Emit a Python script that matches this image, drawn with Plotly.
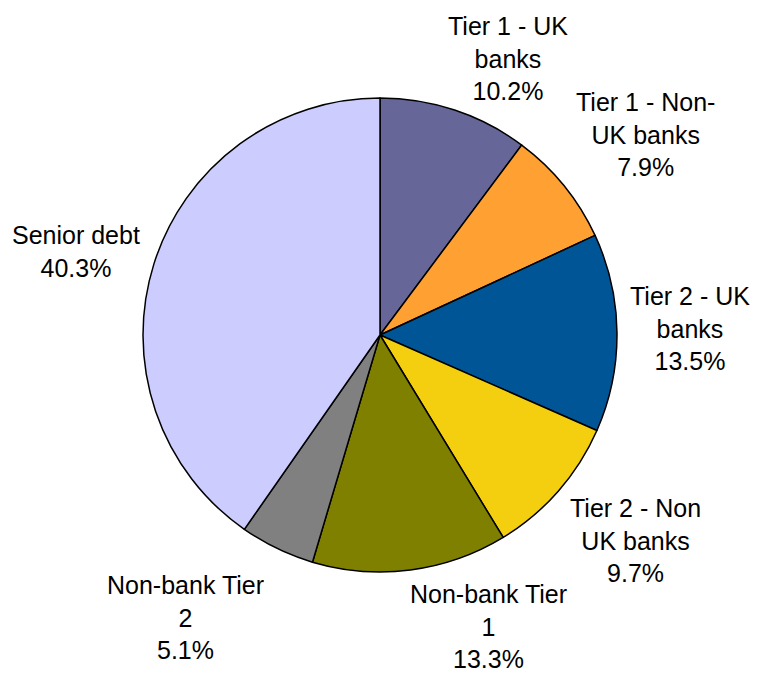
import plotly.graph_objects as go

# Composition of holdings by instrument type (share of total, %)
categories = [
    "Tier 1 - UK banks",
    "Tier 1 - Non-UK banks",
    "Tier 2 - UK banks",
    "Tier 2 - Non UK banks",
    "Non-bank Tier 1",
    "Non-bank Tier 2",
    "Senior debt",
]
label_lines = [
    "Tier 1 - UK<br>banks",
    "Tier 1 - Non-<br>UK banks",
    "Tier 2 - UK<br>banks",
    "Tier 2 - Non<br>UK banks",
    "Non-bank Tier<br>1",
    "Non-bank Tier<br>2",
    "Senior debt",
]
shares = [10.2, 7.9, 13.5, 9.7, 13.3, 5.1, 40.3]

colors = ["#666699", "#FFA033", "#005597", "#F4CF10", "#808000", "#808080", "#CCCCFF"]

# label anchor points (paper coordinates)
label_x = [0.671, 0.853, 0.912, 0.839, 0.645, 0.245, 0.100]
label_y = [0.913, 0.800, 0.513, 0.200, 0.072, 0.085, 0.628]

W, H = 757, 675
font = dict(family="Liberation Sans, Arial, sans-serif", size=25, color="#000000")

fig = go.Figure(
    go.Pie(
        labels=categories,
        values=shares,
        sort=False,
        direction="clockwise",
        rotation=0,
        marker=dict(colors=colors, line=dict(color="#000000", width=1.5)),
        textinfo="none",
        hoverinfo="label+percent",
        showlegend=False,
        domain=dict(x=[143 / W, 617 / W], y=[1 - 572 / H, 1 - 98 / H]),
    )
)

for txt, v, x, y in zip(label_lines, shares, label_x, label_y):
    fig.add_annotation(
        x=x, y=y, xref="paper", yref="paper",
        text=f"{txt}<br>{v:.1f}%",
        showarrow=False, align="center",
        xanchor="center", yanchor="middle",
        font=font,
    )

fig.update_layout(
    width=W, height=H,
    margin=dict(l=0, r=0, t=0, b=0),
    paper_bgcolor="#FFFFFF",
    plot_bgcolor="#FFFFFF",
)

fig.write_html("out.html")
